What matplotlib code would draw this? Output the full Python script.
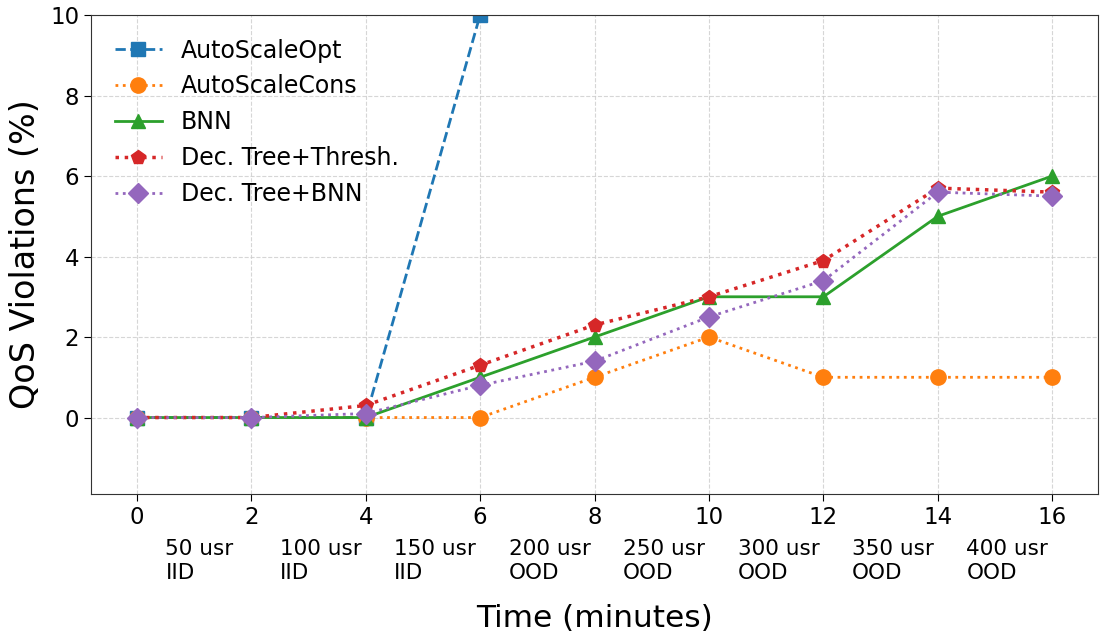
import matplotlib
matplotlib.use("Agg")
import matplotlib.pyplot as plt

# --- datos ---
time_min = [0, 2, 4, 6, 8, 10, 12, 14, 16]
opt_time = [0, 2, 4, 6]
autoscale_opt = [0, 0, 0, 10]
autoscale_cons = [0, 0, 0, 0, 1, 2, 1, 1, 1]
bnn = [0, 0, 0, 1, 2, 3, 3, 5, 6]
tree_thresh = [0, 0, 0.3, 1.3, 2.3, 3.0, 3.9, 5.7, 5.6]
tree_bnn = [0, 0, 0.1, 0.8, 1.4, 2.5, 3.4, 5.6, 5.5]

phase_pos = [0.5, 2.5, 4.5, 6.5, 8.5, 10.5, 12.5, 14.5]
phase_labels = ["50 usr\nIID", "100 usr\nIID", "150 usr\nIID", "200 usr\nOOD",
                "250 usr\nOOD", "300 usr\nOOD", "350 usr\nOOD", "400 usr\nOOD"]

fig = plt.figure(figsize=(11.01, 6.42), dpi=100)
ax = fig.add_axes([0.0827, 0.2305, 0.9146, 0.7461])

ax.plot(opt_time, autoscale_opt, '--s', color='tab:blue', lw=2, ms=10, label='AutoScaleOpt')
ax.plot(time_min, autoscale_cons, ':o', color='tab:orange', lw=2, ms=11, label='AutoScaleCons')
ax.plot(time_min, bnn, '-^', color='tab:green', lw=2, ms=10.5, label='BNN')
ax.plot(time_min, tree_thresh, ':p', color='tab:red', lw=2.5, ms=10.5, label='Dec. Tree+Thresh.')
ax.plot(time_min, tree_bnn, ':D', color='tab:purple', lw=2, ms=10, label='Dec. Tree+BNN')

ax.set_xlim(-0.8, 16.8)
ax.set_ylim(-1.9, 10)
ax.set_xticks(time_min)
ax.set_yticks([0, 2, 4, 6, 8, 10])
ax.tick_params(labelsize=16.5, length=5)
ax.grid(True, linestyle='--', color='#cccccc', alpha=0.8)

# etiquetas de fase debajo de los ticks
for xp, lab in zip(phase_pos, phase_labels):
    ax.text(xp, -0.093, lab, transform=ax.get_xaxis_transform(), ha='left', va='top',
            fontsize=15.5, linespacing=1.25)

ax.set_xlabel("Time (minutes)", fontsize=22.5, labelpad=54)
ax.set_ylabel("QoS Violations (%)", fontsize=24, labelpad=6)
ax.legend(loc='upper left', frameon=False, fontsize=17, labelspacing=0.5,
          borderaxespad=0.6)

for s in ax.spines.values():
    s.set_color('#333333')

fig.savefig("out.png", dpi=100)
